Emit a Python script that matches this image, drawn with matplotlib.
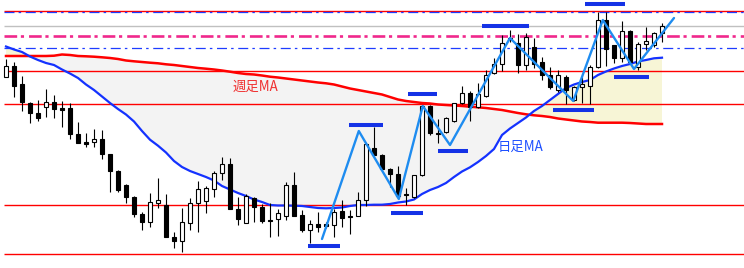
import numpy as np
import matplotlib.pyplot as plt

plt.rcParams['font.family'] = ['Noto Sans CJK JP', 'DejaVu Sans']

#----------------------------   Chart data   ---------------------------------#
# Daily candles (price in chart units, 0 = bottom of picture)
opens = [191, 202, 184, 165, 155, 161, 166, 160, 160, 134,
         126, 126, 129, 114, 97, 83, 71, 54, 46, 65,
         63, 31, 27, 45, 65, 67, 79, 95, 104, 59,
         45, 70, 61, 48.5, 49, 52, 83, 53, 38.5, 44,
         44, 43, 57, 52.5, 52, 68, 120, 113, 99, 94,
         74.5, 71, 93, 162, 135.5, 136, 147, 165, 175, 161,
         172, 195, 204, 229.5, 225, 203, 221, 206, 193, 178,
         191, 168, 181, 182, 201, 248, 223, 210, 237, 201,
         224, 223, 235]
highs = [209, 206, 192, 166, 168, 179, 173, 167, 165, 146,
         135, 139, 138, 114, 98, 84, 72, 56, 75, 90,
         74, 36, 60, 70, 87, 82, 97, 111, 110, 71,
         74, 71, 64, 65, 59, 86, 96, 58, 48, 56,
         46, 59, 68, 58, 76, 125, 141, 114, 100, 102,
         80, 93, 163, 163, 149, 151, 165, 182, 177, 185,
         198, 210, 233, 238, 234, 235, 230, 211, 201, 198,
         193, 182, 191, 203, 256, 256, 223, 247, 238, 226,
         241, 236, 245]
lows = [191, 171, 157, 145, 147, 151, 150, 141, 129, 125,
        121, 121, 109, 76, 76, 65, 51, 38, 41, 60,
        31, 20, 16, 38, 36, 55, 71, 88, 59, 43,
        45, 46, 45, 31, 32, 48, 52, 36, 25, 36,
        40, 31, 41, 34, 52, 62, 113, 98, 81, 72,
        63, 70, 92, 133, 125, 135, 146, 164, 147, 160,
        171, 194, 197, 226, 195, 198, 200, 188, 179, 176,
        164, 167, 165, 164, 200, 202, 205, 206, 205, 198,
        218, 221, 226]
closes = [202, 182, 166, 155, 150, 166, 159, 158.5, 134, 125,
          124.5, 129, 114, 97, 78, 71, 54, 46, 66, 68,
          31, 27, 46, 65, 79, 80, 95, 104, 59, 49,
          72, 61, 47, 47, 55, 83, 52, 38, 44, 41,
          42, 56, 50.5, 51, 68, 124, 113, 99, 94, 72,
          73.5, 93, 162, 135, 134.5, 150, 165, 175, 161, 174,
          193, 204, 225, 230.5, 203, 231, 204, 193, 181, 193,
          178, 181, 184, 201, 248, 219, 210, 237, 206, 224,
          227, 235, 242]

# Weekly moving average (red) and daily moving average (blue)
ma_week = [212, 212, 212, 212, 212, 212, 212.3, 213.5, 213, 212,
           211.7, 211.3, 210.7, 210, 209, 207.5, 206.7, 206, 205.3, 204.7,
           203.7, 203, 202, 201, 200, 199.3, 198.5, 197.5, 196.3, 195,
           194, 193.5, 192.5, 191.3, 190.5, 189.5, 188.5, 187.5, 186.5, 185.5,
           184.7, 183.5, 181.5, 179.5, 178, 176.5, 175, 173.5, 171, 168.5,
           167, 166, 165, 164.5, 163.5, 163, 162.5, 162, 161.3, 160.7,
           160, 159, 158, 156.5, 155, 153.7, 152.7, 152, 151, 149.5,
           148.5, 147.5, 146.5, 146, 145.3, 145.3, 145.3, 145.3, 145, 144.5,
           144, 144, 144]
ma_day = [221.5, 218.5, 216, 211.5, 208, 205, 203, 198.5, 194.5, 190,
          183.5, 178, 171.5, 165, 159, 153.5, 146.5, 137, 128.3, 122.3,
          115.5, 107, 101, 97, 94, 91, 87.5, 82, 78.5, 75,
          72, 68.5, 66, 63, 62.5, 62.5, 62.3, 62, 61, 60,
          59.7, 60, 60.5, 62, 63, 63, 63.3, 63.3, 64, 65.5,
          66.5, 68.5, 74, 78, 81, 85, 91, 96.5, 100.7, 106,
          112, 119, 133, 139.5, 145, 150.5, 157, 162, 168, 174,
          180, 183.5, 186, 188, 193, 196.5, 199.5, 202, 204, 206.5,
          208, 209.7, 210.3]

# Horizontal levels
red_levels = [257.5, 197.3, 163.7, 63, 14]
blue_levels = [255.7, 219.7]
gray_level = 242
pink_level = 232.3

# Zigzag (wave) line: candle index / price
zz_idx = [39.5, 44.1, 49.1, 52.1, 55.5, 63, 70.9, 74.6, 78.5, 83.5]
zz_price = [29, 137, 69, 162, 123, 230, 167, 248, 199, 250]

# Short blue marks at the highs / lows: start index, end index, price
mark_start = [37.75, 42.9, 48.1, 50.25, 54, 59.5, 68.4, 72.4, 76]
mark_end = [41.75, 47.1, 52.1, 53.9, 57.75, 65.4, 73.5, 77.4, 80.4]
mark_price = [22.3, 143, 55, 173.7, 117, 242, 158.3, 263.7, 190.7]
#----------------------------------------------------------------------------#

#-----------------------------   Drawing   ----------------------------------#
fig = plt.figure(figsize=(7.44, 2.68), dpi=100)
ax = fig.add_axes([0, 0, 1, 1])
ax.set_xlim(-0.75, 92.25)
ax.set_ylim(0, 268)
ax.axis('off')

idx = np.arange(len(opens))
wk = np.array(ma_week)
dy = np.array(ma_day)

# Zone between the two averages
ax.fill_between(idx, wk, dy, where=wk >= dy, interpolate=True,
                color='#f3f3f3', lw=0, zorder=1)
ax.fill_between(idx, wk, dy, where=dy >= wk, interpolate=True,
                color='#f7f5d6', lw=0, zorder=1)

# Horizontal levels
for lvl in red_levels:
    ax.hlines(lvl, -0.25, 92.25, color='red', lw=1.0, zorder=2)
for lvl in blue_levels:
    ax.hlines(lvl, -0.25, 92.25, color='#1e3cff', lw=0.9,
              linestyle=(0, (8, 3.3, 2, 3.7)), zorder=2)
ax.hlines(gray_level, -0.25, 92.25, color='#c0c0c0', lw=1.0, zorder=2)
ax.hlines(pink_level, -0.25, 92.25, color='#f0288c', lw=1.9,
          linestyle=(0, (4.8, 1.4, 1.2, 1.9)), zorder=2)

# Moving averages
ax.plot(idx, ma_week, color='red', lw=1.8, zorder=3)
ax.plot(idx, ma_day, color='#1432ff', lw=1.6, zorder=3)

# Candles
for i in idx:
    o, h, l, c = opens[i], highs[i], lows[i], closes[i]
    ax.vlines(i, l, h, color='black', lw=0.8, zorder=4)
    bottom = min(o, c)
    height = max(abs(c - o), 0.9)
    face = 'white' if c >= o else 'black'
    ax.bar(i, height, bottom=bottom, width=0.58, color=face,
           edgecolor='black', lw=0.8, zorder=5)

# Wave line and highs/lows marks
ax.plot(zz_idx, zz_price, color='#1e8cf0', lw=1.7, zorder=6,
        solid_capstyle='round')
ax.hlines(mark_price, mark_start, mark_end, color='#1432e6', lw=2.9,
          zorder=7)

# Labels
ax.text(28.3, 181, '週足MA', color='#f03030', fontsize=9.6,
        va='center', ha='left', zorder=8)
ax.text(61.4, 121, '日足MA', color='#1e50ff', fontsize=9.6,
        va='center', ha='left', zorder=8)

fig.savefig('out.png', dpi=100, facecolor='white')
#----------------------------------------------------------------------------#
